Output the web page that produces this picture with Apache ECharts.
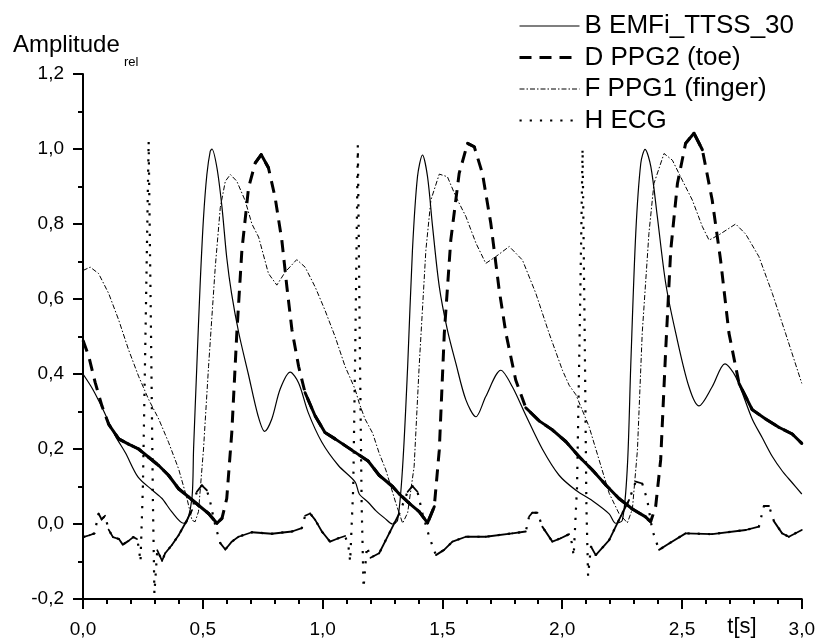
<!DOCTYPE html>
<html><head><meta charset="utf-8">
<script src="https://cdn.jsdelivr.net/npm/echarts@6/dist/echarts.min.js"></script>
<style>html,body{margin:0;padding:0;background:#fff}#c{width:818px;height:639px}</style>
</head><body><div id="c"></div>
<script>
// ---- data ----
const xTicks = [0, 0.5, 1.0, 1.5, 2.0, 2.5, 3.0];
const yTicks = [-0.2, 0, 0.2, 0.4, 0.6, 0.8, 1.0, 1.2];
const seriesNames = ['B EMFi_TTSS_30', 'D PPG2 (toe)', 'F PPG1 (finger)', 'H ECG'];

// B EMFi_TTSS_30
const tB = [0,0.04,0.08,0.135,0.177,0.23,0.29,0.33,0.37,0.42,0.434,0.455,0.4615,0.475,0.489,0.503,0.517,0.531,0.538,0.559,0.58,0.6,0.62,0.65,0.69,0.73,0.758,0.788,0.823,0.865,0.9,0.94,0.997,1.066,1.136,1.153,1.19,1.223,1.26,1.292,1.313,1.334,1.355,1.375,1.396,1.417,1.438,1.459,1.487,1.521,1.556,1.598,1.64,1.681,1.744,1.792,1.848,1.917,1.987,2.057,2.126,2.196,2.223,2.251,2.272,2.286,2.307,2.328,2.346,2.37,2.397,2.432,2.474,2.529,2.571,2.626,2.679,2.724,2.793,2.835,2.877,2.92,2.96,3.0];
const vB = [0.40,0.36,0.31,0.235,0.19,0.125,0.09,0.068,0.033,0.002,0.006,0.07,0.2,0.42,0.64,0.817,0.932,0.994,1.0,0.95,0.845,0.71,0.615,0.51,0.40,0.29,0.247,0.28,0.36,0.405,0.376,0.297,0.218,0.156,0.112,0.08,0.058,0.035,0.015,0.0,0.01,0.153,0.42,0.73,0.926,0.984,0.926,0.793,0.633,0.517,0.429,0.331,0.286,0.34,0.41,0.366,0.29,0.2,0.13,0.09,0.062,0.027,0.002,0.01,0.153,0.42,0.775,0.962,0.999,0.953,0.82,0.642,0.509,0.366,0.315,0.366,0.427,0.393,0.28,0.23,0.18,0.14,0.11,0.08];

// D PPG2 (toe)
const tD = [0,0.024,0.051,0.079,0.107,0.149,0.19,0.232,0.274,0.316,0.357,0.399,0.441,0.482,0.524,0.559,0.58,0.6,0.621,0.642,0.663,0.691,0.719,0.744,0.774,0.802,0.83,0.851,0.872,0.9,0.927,0.969,1.01,1.052,1.094,1.136,1.19,1.236,1.292,1.32,1.362,1.403,1.438,1.466,1.487,1.508,1.535,1.57,1.605,1.633,1.667,1.702,1.737,1.765,1.806,1.848,1.904,1.959,2.015,2.07,2.126,2.182,2.237,2.293,2.348,2.369,2.39,2.411,2.432,2.453,2.481,2.515,2.55,2.585,2.626,2.661,2.696,2.738,2.793,2.849,2.904,2.96,3.0];
const vD = [0.49,0.447,0.377,0.315,0.266,0.227,0.213,0.2,0.178,0.156,0.13,0.094,0.072,0.05,0.028,0.002,0.015,0.068,0.244,0.509,0.729,0.897,0.963,0.985,0.95,0.87,0.756,0.632,0.518,0.42,0.35,0.288,0.244,0.227,0.209,0.191,0.168,0.13,0.1,0.08,0.055,0.033,0.003,0.046,0.197,0.509,0.757,0.935,1.015,1.006,0.935,0.802,0.624,0.509,0.384,0.31,0.275,0.251,0.22,0.18,0.144,0.104,0.068,0.04,0.019,0.006,0.046,0.171,0.464,0.73,0.908,1.015,1.042,0.998,0.864,0.704,0.509,0.375,0.305,0.28,0.258,0.24,0.215];

// F PPG1 (finger)
const tF = [0,0.03,0.065,0.107,0.149,0.19,0.232,0.274,0.316,0.357,0.399,0.434,0.455,0.468,0.482,0.503,0.524,0.552,0.573,0.594,0.615,0.642,0.677,0.705,0.733,0.774,0.809,0.844,0.892,0.927,0.969,1.01,1.052,1.094,1.136,1.153,1.177,1.209,1.236,1.264,1.306,1.334,1.355,1.382,1.403,1.431,1.452,1.487,1.521,1.556,1.598,1.64,1.681,1.723,1.779,1.834,1.89,1.945,2.001,2.029,2.057,2.112,2.154,2.196,2.237,2.272,2.293,2.314,2.334,2.362,2.383,2.425,2.46,2.501,2.543,2.585,2.613,2.654,2.724,2.766,2.821,2.877,2.932,3.0];
const vF = [0.676,0.685,0.668,0.615,0.544,0.465,0.394,0.332,0.28,0.218,0.147,0.068,0.01,0.006,0.033,0.2,0.42,0.685,0.844,0.914,0.932,0.914,0.862,0.8,0.765,0.668,0.637,0.672,0.705,0.685,0.632,0.57,0.5,0.42,0.359,0.322,0.28,0.242,0.189,0.144,0.055,0.002,0.03,0.153,0.42,0.73,0.864,0.933,0.926,0.873,0.82,0.749,0.695,0.713,0.74,0.704,0.615,0.509,0.41,0.37,0.345,0.26,0.171,0.082,0.028,0.003,0.04,0.197,0.509,0.775,0.908,0.988,0.97,0.917,0.864,0.793,0.757,0.771,0.8,0.773,0.713,0.615,0.509,0.375];

// H ECG
const tH = [0,0.027,0.048,0.065,0.078,0.092,0.107,0.125,0.15,0.166,0.19,0.21,0.225,0.232,0.24,0.25,0.262,0.274,0.284,0.292,0.298,0.31,0.33,0.343,0.371,0.399,0.427,0.455,0.475,0.496,0.517,0.531,0.545,0.559,0.573,0.594,0.621,0.649,0.705,0.788,0.872,0.913,0.927,0.948,0.969,0.997,1.031,1.066,1.094,1.108,1.115,1.128,1.138,1.147,1.155,1.163,1.171,1.185,1.2,1.236,1.278,1.32,1.355,1.375,1.396,1.417,1.445,1.473,1.507,1.542,1.598,1.681,1.792,1.848,1.862,1.875,1.897,1.917,1.959,1.994,2.029,2.04,2.048,2.062,2.074,2.085,2.094,2.101,2.108,2.12,2.14,2.196,2.237,2.279,2.307,2.334,2.355,2.376,2.404,2.446,2.515,2.626,2.766,2.821,2.835,2.842,2.863,2.884,2.918,2.946,3.0];
const vH = [-0.035,-0.03,-0.025,0.028,0.012,0.022,-0.015,-0.035,-0.04,-0.055,-0.045,-0.035,-0.04,-0.06,-0.1,0.10,0.55,1.02,0.5,0.05,-0.185,-0.07,-0.098,-0.078,-0.056,-0.03,0.002,0.037,0.086,0.103,0.09,0.059,0.015,-0.02,-0.051,-0.068,-0.047,-0.034,-0.022,-0.026,-0.02,-0.011,0.022,0.028,0.011,-0.02,-0.047,-0.038,-0.032,-0.06,-0.1,0.1,0.55,1.01,0.5,0.05,-0.17,-0.06,-0.09,-0.078,-0.025,0.028,0.086,0.101,0.086,0.028,-0.034,-0.083,-0.069,-0.047,-0.034,-0.034,-0.025,-0.02,0.02,0.03,0.03,-0.007,-0.047,-0.038,-0.027,-0.05,-0.085,0.1,0.55,1.0,0.5,0.05,-0.138,-0.06,-0.083,-0.043,0.011,0.064,0.113,0.108,0.064,-0.016,-0.069,-0.052,-0.025,-0.027,-0.016,-0.007,0.03,0.048,0.048,0.007,-0.025,-0.034,-0.016];

// ---- helpers ----
const zip = (t, v) => t.map((x, i) => [x, v[i]]);
const segs = (t, v) => t.slice(0, -1).map((x, i) => [x, v[i], t[i + 1], v[i + 1]]);
const fmt = v => (Math.abs(v) < 1e-9 ? 0 : v).toFixed(1).replace('.', ',');
const FONT = '"Liberation Sans", Arial, Helvetica, sans-serif';

// overlay draws the flat parts of a curve solid (as the original plot does for dense samples)
function flatOverlay(name, t, v, width, maxSlope) {
  return {
    type: 'custom', name: name, silent: true, z: 3,
    data: segs(t, v),
    encode: { x: [0, 2], y: [1, 3] },
    renderItem: function (params, api) {
      const p0 = api.coord([api.value(0), api.value(1)]);
      const p1 = api.coord([api.value(2), api.value(3)]);
      const dx = Math.abs(p1[0] - p0[0]), dy = Math.abs(p1[1] - p0[1]);
      if (dy > maxSlope * dx) return null;
      return { type: 'line', shape: { x1: p0[0], y1: p0[1], x2: p1[0], y2: p1[1] },
               style: { stroke: '#000', lineWidth: width, lineCap: 'round' } };
    }
  };
}

const lineStyles = [
  { color: '#000', width: 1.2, type: 'solid' },
  { color: '#000', width: 3, type: [12, 8] },
  { color: '#000', width: 1, type: [5, 2, 1.5, 2] },
  { color: '#000', width: 2.2, type: [2.2, 8] }
];

const chart = echarts.init(document.getElementById('c'), null, { renderer: 'canvas' });
const axisCommon = {
  axisLine: { show: true, onZero: false, lineStyle: { color: '#000', width: 2 } },
  axisTick: { show: true, inside: false, length: 10, lineStyle: { color: '#000', width: 2 } },
  minorTick: { show: true, length: 5, lineStyle: { color: '#000', width: 2 } },
  splitLine: { show: false },
  axisLabel: { color: '#000', fontSize: 19, fontFamily: FONT, formatter: fmt }
};
chart.setOption({
  animation: false,
  backgroundColor: '#fff',
  grid: { left: 83, right: 15, top: 74, bottom: 40, containLabel: false },
  xAxis: Object.assign({}, axisCommon, {
    type: 'value', min: xTicks[0], max: xTicks[xTicks.length - 1], interval: 0.5,
    minorTick: Object.assign({}, axisCommon.minorTick, { splitNumber: 5 }),
    axisLabel: Object.assign({}, axisCommon.axisLabel, { margin: 21 })
  }),
  yAxis: Object.assign({}, axisCommon, {
    type: 'value', min: yTicks[0], max: yTicks[yTicks.length - 1], interval: 0.2,
    minorTick: Object.assign({}, axisCommon.minorTick, { splitNumber: 2 }),
    axisLabel: Object.assign({}, axisCommon.axisLabel, { margin: 19 })
  }),
  legend: {
    orient: 'vertical', left: 518, top: 13, padding: 0,
    itemWidth: 60, itemHeight: 12, itemGap: 5.5, selectedMode: false,
    itemStyle: { opacity: 0 },
    data: seriesNames.map((n, i) => ({ name: n, lineStyle: { width: lineStyles[i].width, type: lineStyles[i].type, color: '#000' } })),
    textStyle: { color: '#000', fontSize: 26, lineHeight: 26, fontFamily: FONT }
  },
  graphic: [
    { type: 'text', x: 13, y: 45, style: { text: 'Amplitude', font: '24px ' + FONT, fill: '#000', align: 'left', verticalAlign: 'middle' } },
    { type: 'text', x: 124, y: 62, style: { text: 'rel', font: '13px ' + FONT, fill: '#000', align: 'left', verticalAlign: 'middle' } },
    { type: 'text', x: 742, y: 627, style: { text: 't[s]', font: '22px ' + FONT, fill: '#000', align: 'center', verticalAlign: 'middle' } }
  ],
  series: [
    { type: 'line', name: seriesNames[0], data: zip(tB, vB), symbol: 'none', smooth: 0.3,
      lineStyle: lineStyles[0], itemStyle: { color: '#000' } },
    { type: 'line', name: seriesNames[1], data: zip(tD, vD), symbol: 'none',
      lineStyle: lineStyles[1], itemStyle: { color: '#000' } },
    { type: 'line', name: seriesNames[2], data: zip(tF, vF), symbol: 'none',
      lineStyle: lineStyles[2], itemStyle: { color: '#000' } },
    { type: 'line', name: seriesNames[3], data: zip(tH, vH), symbol: 'none',
      lineStyle: lineStyles[3], itemStyle: { color: '#000' } },
    flatOverlay('D flat', tD, vD, 3, 2.5),
    flatOverlay('H flat', tH, vH, 1.8, 2.5)
  ]
});
</script></body></html>
